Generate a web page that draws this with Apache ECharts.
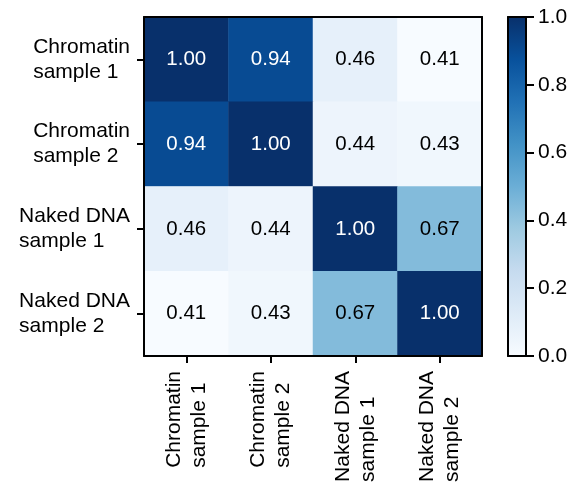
<!DOCTYPE html>
<html><head><meta charset="utf-8">
<script src="https://cdn.jsdelivr.net/npm/echarts@6/dist/echarts.min.js"></script>
<style>html,body{margin:0;padding:0;background:#fff}#c{width:581px;height:491px}</style>
</head><body><div id="c"></div>
<script>
const categories = ['Chromatin\nsample 1', 'Chromatin\nsample 2', 'Naked DNA\nsample 1', 'Naked DNA\nsample 2'];
const row1 = [1.00, 0.94, 0.46, 0.41];
const row2 = [0.94, 1.00, 0.44, 0.43];
const row3 = [0.46, 0.44, 1.00, 0.67];
const row4 = [0.41, 0.43, 0.67, 1.00];
const colorbarTicks = [0, 0.2, 0.4, 0.6, 0.8, 1.0];

const rows = [row1, row2, row3, row4];
const BLUES = ['#f7fbff','#deebf7','#c6dbef','#9ecae1','#6baed6','#4292c6','#2171b5','#08519c','#08306b'];
const FONT = 'Liberation Sans';
const allVals = rows.flat();
const vmin = Math.min(...allVals), vmax = Math.max(...allVals);

const data = [];
rows.forEach((r, yi) => r.forEach((v, xi) => {
  data.push({value: [xi, yi, v], label: {color: (v - vmin) / (vmax - vmin) > 0.6 ? '#fff' : '#000'}});
}));

const chart = echarts.init(document.getElementById('c'), null, {renderer: 'canvas'});
const richL = {l: {align: 'left', fontSize: 21, fontFamily: FONT, color: '#000', lineHeight: 25}};
const fmt = v => v.split('\n').map(s => '{l|' + s + '}').join('\n');
const line = {show: true, onZero: false, lineStyle: {color: '#000', width: 2}};

chart.setOption({
  animation: false,
  backgroundColor: '#fff',
  grid: [
    {left: 144, top: 17, width: 338, height: 339},
    {left: 508, top: 17, width: 18, height: 339, show: true, borderWidth: 0,
     backgroundColor: new echarts.graphic.LinearGradient(0, 1, 0, 0, BLUES.map((c, i) => ({offset: i / (BLUES.length - 1), color: c})))}
  ],
  xAxis: [
    {type: 'category', data: categories, gridIndex: 0, position: 'bottom', z: 10,
     axisLine: line,
     axisTick: {show: true, inside: false, alignWithLabel: true, length: 7, lineStyle: {width: 2, color: '#000'}},
     axisLabel: {rotate: 90, margin: 15, formatter: fmt, rich: richL, interval: 0},
     splitLine: {show: false}},
    {type: 'category', data: categories, gridIndex: 0, position: 'top', z: 10,
     axisLine: line, axisTick: {show: false}, axisLabel: {show: false}},
    {type: 'value', gridIndex: 1, position: 'bottom', min: 0, max: 1, z: 10,
     axisLine: line, axisTick: {show: false}, axisLabel: {show: false}, splitLine: {show: false}},
    {type: 'value', gridIndex: 1, position: 'top', min: 0, max: 1, z: 10,
     axisLine: line, axisTick: {show: false}, axisLabel: {show: false}, splitLine: {show: false}}
  ],
  yAxis: [
    {type: 'category', data: categories, gridIndex: 0, inverse: true, position: 'left', z: 10,
     axisLine: line,
     axisTick: {show: true, inside: false, alignWithLabel: true, length: 7, lineStyle: {width: 2, color: '#000'}},
     axisLabel: {margin: 14, formatter: fmt, rich: richL, interval: 0},
     splitLine: {show: false}},
    {type: 'category', data: categories, gridIndex: 0, inverse: true, position: 'right', z: 10,
     axisLine: line, axisTick: {show: false}, axisLabel: {show: false}},
    {type: 'value', gridIndex: 1, position: 'right', min: 0, max: 1, interval: 0.2, z: 10,
     axisLine: line,
     axisTick: {show: true, inside: false, length: 8, lineStyle: {width: 2, color: '#000'}},
     axisLabel: {margin: 12, fontSize: 21, fontFamily: FONT, color: '#000', formatter: v => v.toFixed(1)},
     splitLine: {show: false}},
    {type: 'value', gridIndex: 1, position: 'left', min: 0, max: 1, z: 10,
     axisLine: line, axisTick: {show: false}, axisLabel: {show: false}, splitLine: {show: false}}
  ],
  visualMap: {show: false, type: 'continuous', min: vmin, max: vmax, dimension: 2, seriesIndex: 0,
    inRange: {color: BLUES}},
  series: [{
    type: 'heatmap', xAxisIndex: 0, yAxisIndex: 0, data: data,
    label: {show: true, fontSize: 20.5, fontFamily: FONT, formatter: p => p.value[2].toFixed(2)},
    itemStyle: {borderWidth: 0},
    emphasis: {disabled: true}
  }]
});
</script></body></html>
